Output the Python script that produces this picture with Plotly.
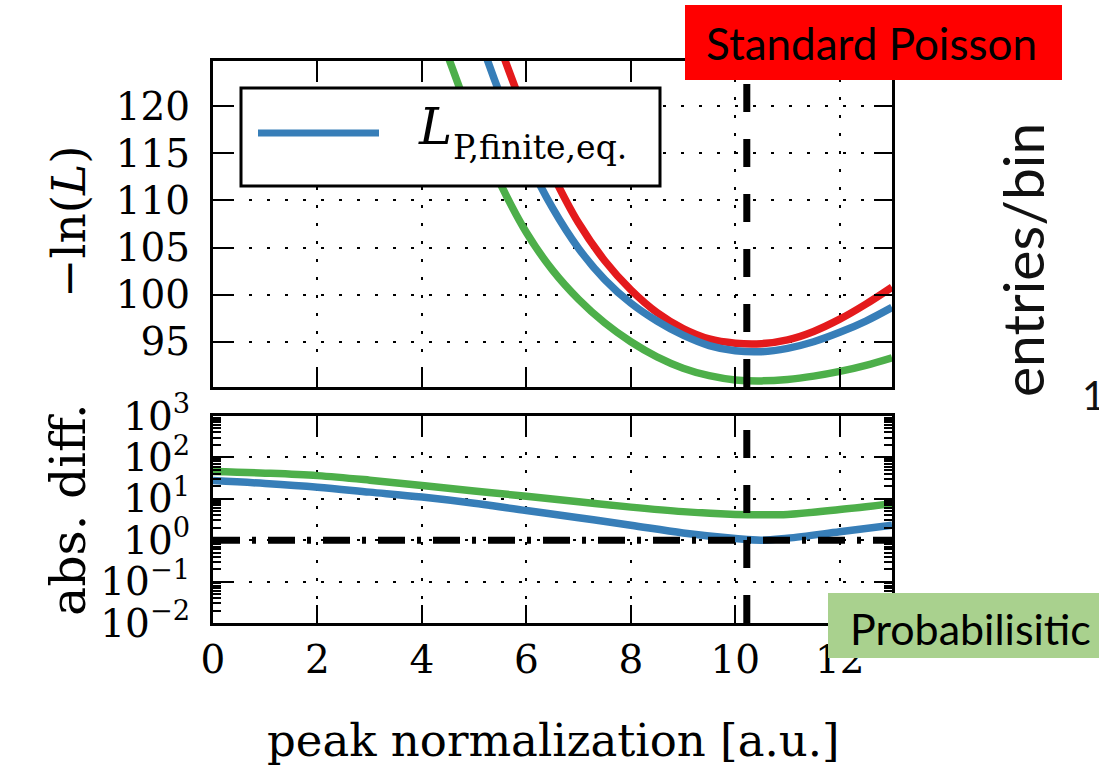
import plotly.graph_objects as go

W, H = 1099, 772

# ---- likelihood scans: -ln(L) versus peak normalization ----
norm_standard = [5.0, 5.5, 6.0, 6.5, 7.0, 7.5, 8.0, 8.5, 9.0, 9.5, 10.0, 10.5, 11.0, 11.5, 12.0, 12.5, 13.0]
nll_standard = [135.0, 126.3, 119.0, 112.8, 107.6, 103.6, 100.5, 98.1, 96.4, 95.3, 94.85, 94.8, 95.2, 96.1, 97.4, 99.0, 100.8]

norm_finite_eq = [4.5, 5.0, 5.5, 6.0, 6.5, 7.0, 7.5, 8.0, 8.5, 9.0, 9.5, 10.0, 10.5, 11.0, 11.5, 12.0, 12.5, 13.0]
nll_finite_eq = [138.0, 129.0, 121.2, 114.6, 109.2, 104.9, 101.6, 99.1, 97.2, 95.7, 94.6, 94.05, 93.95, 94.3, 95.0, 96.0, 97.2, 98.65]

norm_prob = [4.0, 4.5, 5.0, 5.5, 6.0, 6.5, 7.0, 7.5, 8.0, 8.5, 9.0, 9.5, 10.0, 10.5, 11.0, 11.5, 12.0, 12.5, 13.0]
nll_prob = [134.0, 125.3, 118.0, 111.8, 106.6, 102.6, 99.5, 97.0, 95.0, 93.4, 92.2, 91.4, 90.95, 90.85, 91.0, 91.35, 91.85, 92.5, 93.3]

# ---- absolute differences with respect to the standard Poisson scan ----
norm_diff = [0, 1, 2, 3, 4, 5, 6, 7, 8, 9, 10, 10.5, 11, 12, 13]
absdiff_finite_eq = [27.5, 23.4, 19.1, 14.5, 11.0, 7.8, 5.2, 3.5, 2.3, 1.5, 1.1, 1.0, 1.12, 1.6, 2.3]
absdiff_prob = [45.7, 41.7, 36.3, 28.2, 20.9, 15.5, 11.5, 8.5, 6.3, 4.9, 4.2, 4.1, 4.2, 5.5, 7.6]

best_norm = 10.22      # fitted peak normalization
unit_diff = 1.0        # reference level in the difference panel

x_ticks = [0, 2, 4, 6, 8, 10, 12]
nll_ticks = [95, 100, 105, 110, 115, 120]
diff_ticks = [1e-2, 1e-1, 1e0, 1e1, 1e2, 1e3]
diff_ticktext = ["10<sup>\u22122</sup>", "10<sup>\u22121</sup>", "10<sup>0</sup>",
                 "10<sup>1</sup>", "10<sup>2</sup>", "10<sup>3</sup>"]
diff_minor = [m * 10.0 ** e for e in range(-2, 3) for m in range(2, 10)]

RED, BLUE, GREEN = "#e41a1c", "#377eb8", "#4daf4a"
SERIF = "DejaVu Serif"
SANS = "Lato"


def px(x):
    return x / W


def py(y):
    return 1 - y / H


def label(x, y, text, family, size, xanchor="center", angle=0, color="black"):
    fig.add_annotation(xref="paper", yref="paper", x=px(x), y=py(y), text=text,
                       showarrow=False, xanchor=xanchor, yanchor="middle", textangle=angle,
                       font=dict(family=family, size=size, color=color))


fig = go.Figure()

for xs, ys, col in [(norm_standard, nll_standard, RED),
                    (norm_finite_eq, nll_finite_eq, BLUE),
                    (norm_prob, nll_prob, GREEN)]:
    fig.add_trace(go.Scatter(x=xs, y=ys, mode="lines", xaxis="x", yaxis="y",
                             line=dict(color=col, width=7.5, shape="spline"),
                             showlegend=False, hoverinfo="skip"))

for ys, col in [(absdiff_finite_eq, BLUE), (absdiff_prob, GREEN)]:
    fig.add_trace(go.Scatter(x=norm_diff, y=ys, mode="lines", xaxis="x2", yaxis="y2",
                             line=dict(color=col, width=7.5, shape="spline"),
                             showlegend=False, hoverinfo="skip"))

axis_style = dict(
    showline=True, linecolor="black", linewidth=3, mirror="allticks",
    ticks="inside", ticklen=18, tickwidth=2, tickcolor="black",
    showgrid=True, gridcolor="black", gridwidth=2, griddash="3px,15px",
    zeroline=False, automargin=False,
    tickfont=dict(family=SERIF, size=39, color="black"),
)

x_dom = [px(213), px(892)]
fig.update_layout(
    template="none",
    width=W, height=H, margin=dict(l=0, r=0, t=0, b=0, autoexpand=False),
    plot_bgcolor="white", paper_bgcolor="white", showlegend=False,
    xaxis=dict(domain=x_dom, range=[0, 13], anchor="y", tickvals=x_ticks,
               showticklabels=False, **axis_style),
    yaxis=dict(domain=[py(387), py(61)], range=[90.2, 124.8], anchor="x",
               tickvals=nll_ticks, ticklabelstandoff=12, **axis_style),
    xaxis2=dict(domain=x_dom, range=[0, 13], anchor="y2", tickvals=x_ticks,
                **axis_style),
    yaxis2=dict(domain=[py(623), py(416)], type="log", range=[-2, 3], anchor="x2",
                tickvals=diff_ticks, ticktext=diff_ticktext, ticklabelstandoff=12,
                minor=dict(ticks="inside", ticklen=8, tickwidth=1.5, tickcolor="black",
                           tickvals=diff_minor, showgrid=False),
                **axis_style),
)

# fitted normalization (vertical) and unit level (horizontal)
fig.add_shape(type="line", xref="x", yref="y", x0=best_norm, x1=best_norm, y0=90.2, y1=124.8,
              line=dict(color="black", width=7, dash="28px,27px"))
fig.add_shape(type="line", xref="x2", yref="y2", x0=best_norm, x1=best_norm, y0=0.01, y1=1000,
              line=dict(color="black", width=7, dash="28px,27px"))
fig.add_shape(type="line", xref="x2", yref="y2", x0=0, x1=13, y0=unit_diff, y1=unit_diff,
              line=dict(color="black", width=7, dash="27px,12px,4px,12px"))

# legend box
fig.add_shape(type="rect", xref="paper", yref="paper", x0=px(241), x1=px(660), y0=py(186), y1=py(88),
              fillcolor="white", line=dict(color="black", width=3), layer="above")
fig.add_shape(type="line", xref="paper", yref="paper", x0=px(258), x1=px(379), y0=py(133), y1=py(133),
              line=dict(color=BLUE, width=7), layer="above")
label(416, 127, "<i>L</i>", SERIF, 50, xanchor="left")
label(451, 147, "P,finite,eq.", SERIF, 33, xanchor="left")

# axis titles
label(68, 222, "\u2212ln(<i>L</i>)", SERIF, 47, angle=-90)
label(68, 510, "abs. diff.", SERIF, 49, angle=-90)
label(553, 740, "peak normalization [a.u.]", SERIF, 45)

# method labels
fig.add_shape(type="rect", xref="paper", yref="paper", x0=px(685), x1=px(1062), y0=py(80), y1=py(5),
              fillcolor="#ff0000", line=dict(width=0), layer="above")
label(871, 43, "Standard Poisson", SANS, 44)
fig.add_shape(type="rect", xref="paper", yref="paper", x0=px(828), x1=px(1102), y0=py(658), y1=py(593),
              fillcolor="#a9d18e", line=dict(width=0), layer="above")
label(848, 628, "Probabilisitic", SANS, 43, xanchor="left")

# neighbouring panel edge
label(1022, 260, "entries/bin", SANS, 57, angle=-90, color="#111111")
label(1080, 395, "1", SANS, 40, xanchor="left", color="#111111")

fig.write_html("out.html")
